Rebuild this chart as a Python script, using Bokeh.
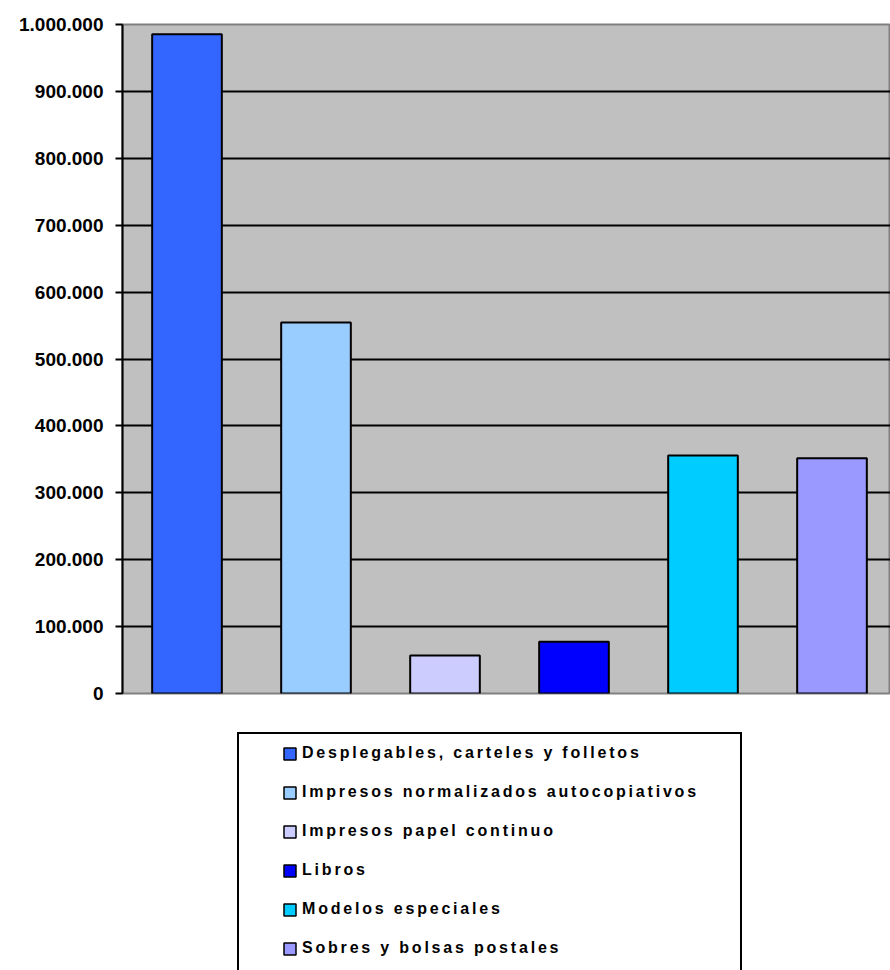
import numpy as np
from bokeh.plotting import figure
from bokeh.layouts import column
from bokeh.models import Range1d, FixedTicker, Legend, LegendItem, ColumnDataSource
from bokeh.embed import file_html
from bokeh.resources import INLINE

categories = [
    "Desplegables, carteles y folletos",
    "Impresos normalizados autocopiativos",
    "Impresos papel continuo",
    "Libros",
    "Modelos especiales",
    "Sobres y bolsas postales",
]
values = [985500, 554600, 56800, 77300, 355700, 351700]
colors = ["#3366FF", "#99CCFF", "#CCCCFF", "#0000FF", "#00CCFF", "#9999FF"]
y_ticks = [0, 100000, 200000, 300000, 400000, 500000, 600000, 700000, 800000, 900000, 1000000]
y_tick_labels = ["0", "100.000", "200.000", "300.000", "400.000", "500.000",
                 "600.000", "700.000", "800.000", "900.000", "1.000.000"]

FONT = "Liberation Sans"
W = 890
FRAME_LEFT = 122

# ---------------- main chart ----------------
p = figure(width=W, height=713, output_backend="svg", toolbar_location=None,
           x_range=Range1d(0, 768 / 129), y_range=Range1d(0, 1000000),
           x_axis_location=None,
           min_border_left=FRAME_LEFT, min_border_right=0, min_border_top=24,
           min_border_bottom=20)
p.background_fill_color = "#C0C0C0"
p.border_fill_color = "white"
p.outline_line_color = "#808080"
p.outline_line_width = 2

for i, (val, col) in enumerate(zip(values, colors)):
    src = ColumnDataSource(dict(x=[i + 0.5], top=[val]))
    p.vbar(x="x", top="top", bottom=0, width=0.54, source=src,
           fill_color=col, line_color="black", line_width=2)

yax = p.yaxis[0]
yax.ticker = FixedTicker(ticks=y_ticks)
yax.major_label_overrides = {t: l for t, l in zip(y_ticks, y_tick_labels)}
yax.major_label_text_font = FONT
yax.major_label_text_font_style = "bold"
yax.major_label_text_font_size = "19px"
yax.major_label_text_color = "black"
yax.major_label_standoff = 12
yax.major_tick_in = 0
yax.major_tick_out = 7
yax.major_tick_line_width = 2
yax.major_tick_line_color = "black"
yax.minor_tick_line_color = None
yax.axis_line_color = "black"
yax.axis_line_width = 2

p.xgrid.visible = False
p.ygrid.ticker = FixedTicker(ticks=y_ticks[1:-1])
p.ygrid.grid_line_color = "black"
p.ygrid.grid_line_width = 2

# ---------------- legend area ----------------
QH = 970 - 713
q = figure(width=W, height=QH, output_backend="svg", toolbar_location=None,
           x_range=Range1d(0, 1), y_range=Range1d(0, 1),
           x_axis_location=None, y_axis_location=None,
           min_border=0)
q.styles = {"letter-spacing": "2.8px"}
q.grid.visible = False
q.outline_line_color = None
q.background_fill_color = "white"

# swatch renderers for the legend (no visible marks in this panel)
leg_renderers = []
for cat, col in zip(categories, colors):
    src = ColumnDataSource(dict(x=np.array([np.nan]), top=np.array([np.nan])))
    r = q.vbar(x="x", top="top", bottom=0, width=0.5, source=src,
               fill_color=col, line_color="black", line_width=1.5)
    leg_renderers.append(r)

dummy_src = ColumnDataSource(dict(x=np.array([np.nan]), y=np.array([np.nan])))
dummy = q.scatter(x="x", y="y", source=dummy_src, fill_alpha=0, line_alpha=0)
box = Legend(items=[LegendItem(label=" ", renderers=[dummy])],
             location=(237 - FRAME_LEFT, QH - 23 - 245), padding=0, margin=0,
             glyph_width=1, glyph_height=1, label_standoff=0,
             label_width=500, label_height=245,
             border_line_color="black", border_line_width=2, border_line_alpha=1,
             background_fill_color="white", background_fill_alpha=1)
q.add_layout(box, "center")

leg = Legend(items=[LegendItem(label=c, renderers=[r]) for c, r in zip(categories, leg_renderers)],
             location=(282 - FRAME_LEFT, QH - 30 - 215), padding=0, margin=0,
             glyph_width=15, glyph_height=15, label_standoff=5,
             label_height=20, spacing=19,
             label_text_font=FONT, label_text_font_style="bold",
             label_text_font_size="16px", label_text_color="black",
             border_line_color=None, background_fill_alpha=0)
q.add_layout(leg, "center")

layout = column(p, q, spacing=0)
open("out.html", "w").write(file_html(layout, INLINE))
